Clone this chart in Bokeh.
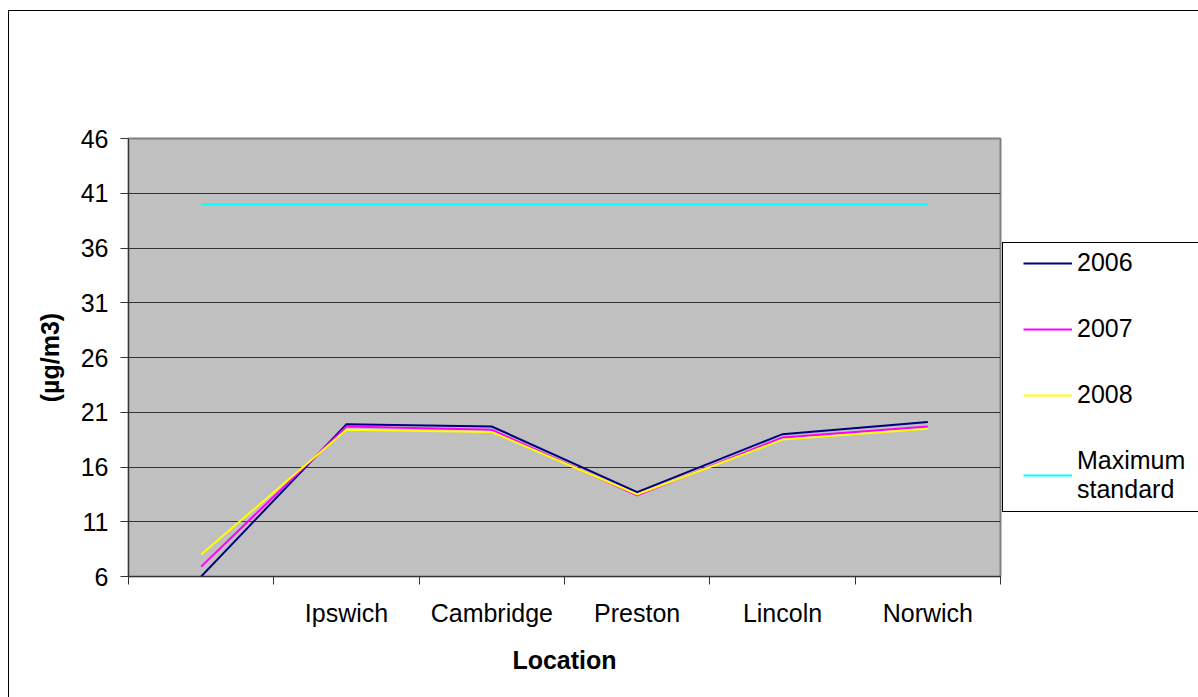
from bokeh.plotting import figure
from bokeh.models import (FixedTicker, Legend, LegendItem, ColumnDataSource,
                          Range1d, InlineStyleSheet)
from bokeh.embed import file_html
from bokeh.resources import INLINE

# Annual mean concentration by monitoring location (µg/m3)
locations = ["", "Ipswich", "Cambridge", "Preston", "Lincoln", "Norwich"]
conc_2006 = [6.0, 19.9, 19.7, 13.7, 19.0, 20.1]
conc_2007 = [6.9, 19.7, 19.4, 13.4, 18.7, 19.7]
conc_2008 = [8.0, 19.4, 19.2, 13.5, 18.5, 19.5]
max_standard = [40, 40, 40, 40, 40, 40]
y_ticks = [6, 11, 16, 21, 26, 31, 36, 41, 46]

FONT = "Liberation Sans"

# each location sits in the middle of its own category slot
x_pos = [i + 0.5 for i in range(len(locations))]
src = ColumnDataSource(dict(x=x_pos, y06=conc_2006, y07=conc_2007,
                            y08=conc_2008, ymax=max_standard))

# chart frame and legend box outlines, drawn over the canvas
frames_css = InlineStyleSheet(css="""
:host { position: relative; }
:host::after {
  content: ""; position: absolute; pointer-events: none;
  left: 8px; top: 10px; right: 0; bottom: 0;
  border-left: 1.5px solid black; border-top: 1.5px solid black;
}
:host::before {
  content: ""; position: absolute; pointer-events: none; z-index: 2;
  left: 1002px; top: 242px; right: 0; height: 270px; box-sizing: border-box;
  border-left: 1px solid black; border-top: 1px solid black;
  border-bottom: 1px solid black;
}
""")

p = figure(frame_width=872, frame_height=438,
           min_border_left=128, min_border_right=198,
           min_border_top=138, min_border_bottom=121,
           x_range=Range1d(0, len(locations)),
           y_range=Range1d(y_ticks[0], y_ticks[-1]),
           output_backend="svg", toolbar_location=None,
           stylesheets=[frames_css])

p.background_fill_color = "#C0C0C0"
p.border_fill_color = "white"
p.outline_line_color = "#808080"
p.outline_line_width = 2

# y axis
p.yaxis.ticker = FixedTicker(ticks=y_ticks)
p.yaxis.axis_line_color = "#333333"
p.yaxis.major_tick_line_color = "#333333"
p.yaxis.major_tick_out = 8
p.yaxis.major_tick_in = 0
p.yaxis.minor_tick_line_color = None
p.yaxis.major_label_standoff = 12
p.yaxis.major_label_text_font = FONT
p.yaxis.major_label_text_font_size = "25px"
p.yaxis.major_label_text_color = "black"
p.yaxis.axis_label = "(µg/m3)"
p.yaxis.axis_label_text_font = FONT
p.yaxis.axis_label_text_font_size = "25px"
p.yaxis.axis_label_text_font_style = "bold"
p.yaxis.axis_label_text_color = "black"
p.yaxis.axis_label_standoff = 14

# x axis: labels in slot centres, tick marks on slot boundaries
p.xaxis.ticker = FixedTicker(ticks=x_pos,
                             minor_ticks=list(range(len(locations) + 1)))
p.xaxis.major_label_overrides = {x: name for x, name in zip(x_pos, locations)}
p.xaxis.axis_line_color = "#333333"
p.xaxis.major_tick_line_color = None
p.xaxis.major_tick_out = 0
p.xaxis.major_tick_in = 0
p.xaxis.minor_tick_line_color = "#333333"
p.xaxis.minor_tick_out = 8
p.xaxis.minor_tick_in = 0
p.xaxis.major_label_standoff = 14
p.xaxis.major_label_text_font = FONT
p.xaxis.major_label_text_font_size = "25px"
p.xaxis.major_label_text_color = "black"
p.xaxis.axis_label = "Location"
p.xaxis.axis_label_text_font = FONT
p.xaxis.axis_label_text_font_size = "25px"
p.xaxis.axis_label_text_font_style = "bold"
p.xaxis.axis_label_text_color = "black"
p.xaxis.axis_label_standoff = 16

p.xgrid.grid_line_color = None
p.ygrid.ticker = FixedTicker(ticks=y_ticks)
p.ygrid.grid_line_color = "#333333"
p.ygrid.grid_line_width = 1

r06 = p.line("x", "y06", source=src, line_color="#000080", line_width=2, line_join="miter")
r07 = p.line("x", "y07", source=src, line_color="#FF00FF", line_width=2, line_join="miter")
r08 = p.line("x", "y08", source=src, line_color="#FFFF00", line_width=2, line_join="miter")
rmax = p.line("x", "ymax", source=src, line_color="#00FFFF", line_width=2)

legend = Legend(items=[
    LegendItem(label="2006", renderers=[r06]),
    LegendItem(label="2007", renderers=[r07]),
    LegendItem(label="2008", renderers=[r08]),
    LegendItem(label="Maximum\nstandard", renderers=[rmax]),
], location=(13, 62))
legend.margin = 0
legend.padding = 10
legend.spacing = 37
legend.glyph_width = 49
legend.glyph_height = 20
legend.label_standoff = 5
legend.label_text_font = FONT
legend.label_text_font_size = "25px"
legend.label_text_color = "black"
legend.border_line_alpha = 0
legend.background_fill_alpha = 0
p.add_layout(legend, "right")

open("out.html", "w").write(file_html(p, INLINE))
